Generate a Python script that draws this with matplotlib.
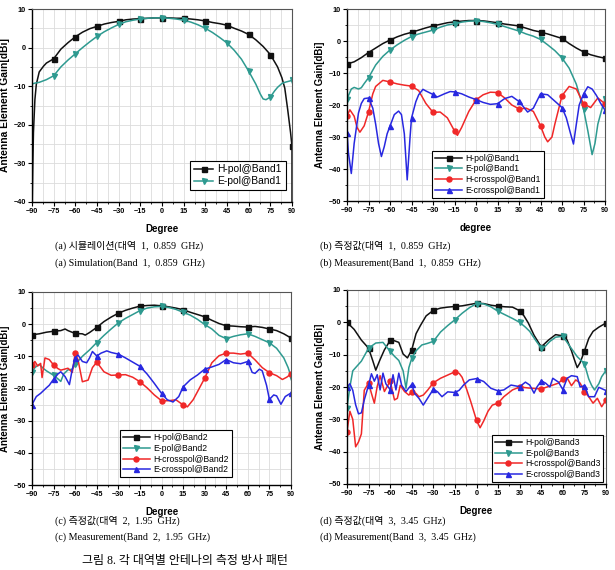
import matplotlib
matplotlib.use('Agg')
import matplotlib.pyplot as plt
from matplotlib.ticker import MultipleLocator

# ---------------- data ----------------
# (a) simulation, band 1
a_h_ang = [-90, -89.5, -89, -88, -87, -85, -82, -80, -75, -70, -65, -60, -55, -50, -45, -40, -35, -30, -25, -20, -15, -10, -5, 0,
           5, 10, 15, 20, 25, 30, 35, 40, 45, 50, 55, 60, 65, 70, 75, 80, 83, 85, 87, 88, 89, 90, 90]
a_h_val = [-45, -32, -22, -13.5, -9.5, -6.3, -4.8, -4.0, -2.9, -0.4, 1.3, 2.8, 4.0, 4.9, 5.5, 6.1, 6.5, 6.8, 7.2, 7.4, 7.5, 7.6, 7.7, 7.7,
           7.7, 7.6, 7.6, 7.4, 7.2, 6.9, 6.5, 6.2, 5.8, 5.0, 4.3, 3.4, 2.0, 0.3, -1.8, -5.0, -7.8, -10.5, -16, -19, -22, -25.6, -45]
a_e_ang = [-90, -89.8, -88, -85, -80, -75, -70, -65, -60, -55, -50, -45, -40, -35, -30, -25, -20, -15, -10, -5, 0,
           5, 10, 15, 20, 25, 30, 35, 40, 45, 50, 55, 60, 65, 68, 70, 72, 75, 78, 80, 83, 85, 88, 90]
a_e_val = [-45, -9.4, -9.2, -9.0, -8.3, -7.3, -5.0, -3.2, -1.6, 0.0, 1.5, 2.9, 4.1, 5.1, 6.0, 6.7, 7.1, 7.4, 7.6, 7.7, 7.7,
           7.6, 7.4, 7.1, 6.6, 5.9, 5.0, 3.9, 2.6, 1.2, -0.7, -3.0, -6.1, -9.5, -12, -13.3, -13.5, -12.8, -11.2, -10.3, -9.3, -9.0, -8.7, -8.5]

# (b) measurement, band 1
b_h_ang = list(range(-90, 91, 5))
b_h_val = [-7.2, -6.5, -5.2, -3.6, -2.2, -0.8, 0.3, 1.3, 2.1, 2.7, 3.4, 4.1, 4.7, 5.2, 5.7, 6.0, 6.2, 6.4, 6.4,
           6.3, 6.0, 5.7, 5.3, 5.0, 4.7, 4.0, 3.3, 2.8, 2.2, 1.5, 0.8, -0.8, -2.2, -3.4, -4.3, -4.9, -5.4]
b_e_ang = [-90, -87, -85, -82, -80, -78, -75, -70, -65, -60, -55, -50, -45, -40, -35, -30, -25, -20, -15, -10, -5, 0,
           5, 10, 15, 20, 25, 30, 35, 40, 45, 50, 55, 60, 65, 70, 75, 78, 80, 81, 83, 85, 88, 90]
b_e_val = [-18.1, -15.0, -14.5, -15.0, -14.6, -13.3, -11.5, -7.5, -4.8, -2.8, -1.2, 0.2, 1.4, 2.2, 2.8, 3.4, 4.3, 5.0, 5.4, 5.9, 6.2, 6.3,
           6.1, 5.7, 5.2, 4.5, 3.8, 3.1, 2.2, 1.5, 0.5, -1.2, -3.0, -5.3, -8.5, -13.5, -21.2, -28, -33, -35.5, -32, -26, -21, -18.1]
b_hx_ang = [-90, -88, -85, -83, -81, -78, -75, -72, -70, -65, -60, -55, -50, -45, -40, -35, -30, -25, -20, -15, -13, -10, -5, 0,
            5, 10, 15, 20, 25, 30, 35, 40, 45, 48, 50, 53, 55, 60, 65, 70, 75, 80, 85, 90]
b_hx_val = [-23.4, -21.5, -23.5, -27, -28.5, -26.5, -22.2, -16.5, -14.2, -12.3, -12.8, -13.4, -13.8, -14.1, -15.5, -19.5, -22.3, -22.2, -24.0, -28.1, -29.5, -27, -22, -18.4,
            -16.8, -16.0, -16.1, -17.8, -20.0, -21.2, -21.0, -22.0, -26.5, -30, -31.5, -30, -26, -17.1, -14.2, -15.0, -19.6, -20.8, -17.8, -19.6]
b_ex_ang = [-90, -89, -87, -85, -82, -80, -78, -75, -72, -70, -68, -66, -64, -62, -60, -57, -54, -52, -50, -48, -46, -45, -42, -40, -37, -35,
            -30, -27, -22, -18, -15, -10, -5, 0, 5, 10, 15, 20, 25, 30, 33, 36, 40, 45, 50, 55, 60, 63, 66, 68, 70, 72, 75, 78, 81, 84, 87, 90]
b_ex_val = [-28.6, -35, -41.4, -32, -22.5, -19.5, -18.0, -17.8, -21, -26, -32, -36.1, -33, -29, -26.6, -23, -21.9, -23, -29, -43.4, -30, -24.1, -19, -16.8, -15.1, -15.6,
            -16.7, -17.5, -16.5, -15.8, -15.9, -16.5, -17.5, -18.3, -19.2, -19.8, -19.6, -18.0, -17.3, -18.9, -20.5, -22.2, -21.0, -16.5, -16.8, -18.8, -20.8, -24, -29, -32.2, -26, -20, -16.6, -14.3, -15, -17, -19.5, -21.6]

# (c) measurement, band 2
c_h_ang = [-90, -85, -80, -75, -70, -67, -65, -60, -55, -53, -50, -45, -40, -35, -30, -25, -20, -15, -10, -5, 0,
           5, 10, 15, 20, 25, 30, 35, 40, 45, 50, 55, 60, 65, 70, 75, 80, 85, 90]
c_h_val = [-3.3, -3.0, -2.5, -2.2, -2.0, -1.5, -2.0, -2.9, -3.0, -3.4, -2.6, -1.0, 0.8, 2.2, 3.4, 4.3, 5.0, 5.6, 5.8, 5.9, 5.7,
           5.4, 5.0, 4.5, 3.7, 3.0, 2.3, 1.2, 0.2, -0.5, -0.6, -0.8, -0.9, -0.7, -1.0, -1.5, -2.0, -3.0, -4.3]
c_e_ang = [-90, -88, -85, -82, -80, -75, -72, -70, -68, -65, -62, -60, -55, -50, -45, -40, -35, -30, -25, -20, -15, -10, -5, 0,
           5, 10, 15, 20, 25, 30, 35, 40, 45, 50, 55, 60, 65, 70, 75, 80, 85, 88, 90]
c_e_val = [-15.0, -13.5, -12.5, -13.8, -14.5, -15.9, -17.0, -17.8, -15.5, -14.2, -14.0, -12.5, -10.0, -8.0, -5.7, -3.5, -1.5, 0.4, 1.8, 3.0, 4.2, 5.0, 5.4, 5.5,
           5.2, 4.6, 3.7, 2.8, 1.5, -0.1, -1.5, -3.5, -4.5, -3.8, -3.3, -3.0, -3.8, -4.8, -5.8, -7.5, -10.5, -13.5, -16.3]
c_hx_ang = [-90, -88, -86, -84, -83, -81, -78, -75, -72, -70, -65, -62, -60, -58, -55, -51, -48, -45, -40, -35, -30, -25, -20, -15, -10, -5, 0,
            5, 10, 15, 18, 22, 25, 30, 35, 40, 45, 50, 55, 60, 65, 70, 75, 80, 84, 87, 90]
c_hx_val = [-12.7, -11.6, -13.0, -12.2, -16.6, -10.5, -11.0, -12.7, -13.8, -14.3, -13.7, -15.0, -9.0, -11.1, -17.9, -17.4, -13.5, -11.8, -14.8, -15.9, -15.8, -15.7, -16.5, -17.9, -19.8, -22.0, -23.8,
            -23.8, -23.5, -25.1, -25.7, -23.5, -21.0, -16.8, -12.0, -9.8, -9.0, -9.0, -9.3, -9.0, -11.1, -13.5, -15.1, -16.0, -17.2, -16.5, -15.5]
c_ex_ang = [-90, -87, -84, -80, -78, -75, -72, -70, -67, -64, -62, -60, -58, -55, -52, -50, -48, -45, -42, -38, -35, -30, -25, -20, -15, -10, -5, 0,
            4, 8, 12, 15, 20, 25, 30, 35, 40, 45, 50, 55, 60, 63, 65, 68, 70, 73, 75, 78, 80, 83, 86, 90]
c_ex_val = [-25.0, -22.5, -21.5, -19.8, -19.0, -17.1, -15.5, -14.8, -16.3, -18.8, -14.0, -10.5, -9.6, -11.6, -12.0, -10.5, -8.5, -9.9, -9.0, -8.3, -8.8, -9.3, -10.5, -11.8, -13.1, -15.5, -18.4, -21.5,
            -23.5, -24.2, -22.5, -19.5, -17.3, -15.8, -14.0, -13.3, -12.5, -11.0, -12.0, -12.3, -11.6, -15.0, -15.3, -14.0, -14.5, -19.0, -23.4, -22.0, -22.3, -24.9, -22.5, -21.4]

# (d) measurement, band 3
d_h_ang = [-90, -85, -80, -75, -72, -70, -67, -64, -60, -57, -54, -51, -48, -45, -42, -39, -35, -30, -25, -20, -15, -10, -5, 0,
           5, 10, 15, 20, 25, 30, 33, 36, 40, 45, 50, 55, 60, 63, 66, 68, 70, 72, 75, 78, 81, 85, 90]
d_h_val = [0.0, -2.2, -5.5, -8.0, -12.0, -14.8, -11.5, -8.5, -5.6, -5.7, -6.2, -9.8, -11.0, -8.5, -3.5, -1.0, 2.0, 3.7, 4.4, 4.7, 4.9, 5.1, 5.5, 5.9,
           5.8, 5.3, 5.0, 4.8, 4.7, 3.6, 2.0, -0.2, -4.0, -7.6, -5.5, -3.8, -4.2, -5.5, -8.8, -11.5, -14.0, -12.5, -8.9, -5.0, -2.8, -1.5, -0.2]
d_e_ang = [-90, -88, -86, -83, -80, -75, -70, -65, -60, -57, -54, -51, -49, -47, -45, -42, -38, -34, -30, -25, -20, -15, -10, -5, 0,
           5, 10, 15, 20, 25, 30, 34, 37, 41, 45, 48, 51, 55, 60, 65, 70, 75, 78, 80, 82, 85, 87, 90]
d_e_val = [-26.5, -20, -15, -13.5, -12, -8.0, -6.4, -6.2, -9.0, -10.5, -11.8, -15, -20.4, -14, -11.1, -8.8, -7.0, -6.5, -5.9, -3.0, -1.0, 0.8, 2.8, 4.5, 5.8,
           5.7, 4.8, 3.4, 2.3, 1.2, 0.0, -1.5, -2.8, -5.5, -8.0, -7.3, -5.9, -4.6, -4.3, -7.5, -10.6, -12.8, -17.5, -19.5, -20.9, -19, -16.8, -14.9]
d_hx_ang = [-90, -88, -86, -84, -82, -80, -78, -75, -73, -71, -69, -67, -64, -60, -57, -55, -53, -50, -47, -45, -42, -40, -37, -34, -30, -25, -20, -15, -12, -10, -7, -4, 0,
            2.5, 5, 8, 11, 15, 19, 25, 30, 36, 42, 45, 51, 57, 60, 63, 66, 69, 72, 75, 78, 81, 84, 87, 90]
d_hx_val = [-33.8, -27.5, -30, -38.5, -37, -34.5, -21, -18.8, -22, -25, -19.8, -16.5, -21.4, -18.2, -24, -23.5, -19.5, -21.4, -22.5, -21.5, -22, -23, -22.5, -21, -18.7, -17.3, -16.3, -15.3, -15.8, -17, -20.5, -24.5, -30.3,
            -32.6, -30.5, -27.5, -25.6, -25.0, -23, -20.9, -20.0, -20.3, -20.5, -20.6, -19.7, -18.8, -17.5, -17.2, -19.6, -17.8, -18.8, -21.4, -23, -25.0, -23.5, -26.1, -24.0]
d_ex_ang = [-90, -88, -86, -84, -82, -80, -78, -75, -73, -71, -69, -67, -65, -63, -60, -58, -56, -54, -52, -49, -45, -43, -40, -37, -34, -30, -27, -24, -20, -15, -12, -9, -5, 0,
            5, 10, 15, 19, 24, 30, 34, 37, 40, 42, 45, 48, 51, 53, 57, 60, 63, 66, 70, 72, 75, 78, 82, 85, 90]
d_ex_val = [-20.0, -19.0, -21.0, -25.5, -28.3, -28.0, -24.0, -19.4, -15.9, -18.2, -16.2, -20.9, -15.7, -19.0, -20.8, -16.2, -20.9, -15.7, -19.5, -21.4, -19.2, -22.0, -23.5, -25.6, -23.5, -20.7, -21.5, -23.0, -21.5, -21.7, -21.0, -19.4, -17.8, -17.4,
            -18.3, -20.4, -21.2, -20.9, -19.4, -19.9, -18.5, -19.4, -21.9, -20.0, -18.1, -18.8, -20.0, -17.3, -18.5, -20.8, -17.3, -16.5, -16.8, -20.0, -19.6, -23.0, -23.0, -20.1, -21.1]

x_ticks = [-90, -75, -60, -45, -30, -15, 0, 15, 30, 45, 60, 75, 90]

captions_top = [
    ("(a) 시뮬레이션(대역  1,  0.859  GHz)", "(a) Simulation(Band  1,  0.859  GHz)"),
    ("(b) 측정값(대역  1,  0.859  GHz)", "(b) Measurement(Band  1,  0.859  GHz)"),
]
captions_bot = [
    ("(c) 측정값(대역  2,  1.95  GHz)", "(c) Measurement(Band  2,  1.95  GHz)"),
    ("(d) 측정값(대역  3,  3.45  GHz)", "(d) Measurement(Band  3,  3.45  GHz)"),
]
fig_caption = "그림 8. 각 대역별 안테나의 측정 방사 패턴"

# ---------------- style ----------------
SANS = ['Liberation Sans', 'DejaVu Sans']
SERIF = ['Liberation Serif', 'Noto Sans CJK KR', 'DejaVu Sans']
plt.rcParams['font.family'] = SANS

STY = {
    'H': dict(color='#111111', marker='s'),
    'E': dict(color='#2E9A90', marker='v'),
    'HX': dict(color='#F02828', marker='o'),
    'EX': dict(color='#2828E0', marker='^'),
}

W, H = 615, 570
fig = plt.figure(figsize=(W / 100, H / 100), dpi=100)


def add_ax(l, t, r, b):
    return fig.add_axes([l / W, 1 - b / H, (r - l) / W, (b - t) / H])


def mark_idx(ang):
    return [i for i, a in enumerate(ang) if a % 15 == 0 and (i == 0 or ang[i - 1] != a)]


def draw(ax, ang, val, key, label):
    ax.plot(ang, val, lw=1.1, ms=3.6, markevery=mark_idx(ang), label=label,
            clip_on=True, **STY[key])


def style_ax(ax, ylo, xlabel, ylab_fs):
    ax.set_xlim(-90, 90)
    ax.set_ylim(ylo, 10)
    ax.set_xticks(x_ticks)
    ax.xaxis.set_minor_locator(MultipleLocator(7.5))
    ax.yaxis.set_major_locator(MultipleLocator(10))
    ax.yaxis.set_minor_locator(MultipleLocator(5))
    ax.grid(True, which='both', color='#dcdcdc', lw=0.6)
    ax.set_axisbelow(True)
    ax.tick_params(which='major', direction='out', length=3, width=0.8, labelsize=5.2, pad=1.5)
    ax.tick_params(which='minor', direction='out', length=1.6, width=0.6)
    for lab in ax.get_xticklabels() + ax.get_yticklabels():
        lab.set_fontweight('bold')
    for s in ['left', 'bottom']:
        ax.spines[s].set_linewidth(1.0)
    for s in ['top', 'right']:
        ax.spines[s].set_linewidth(0.8)
        ax.spines[s].set_color('#555555')
    ax.set_xlabel(xlabel, fontsize=7, fontweight='bold')
    ax.xaxis.set_label_coords(0.5, -0.115)
    ax.set_ylabel('Antenna Element Gain[dBi]', fontsize=ylab_fs, fontweight='bold')
    ax.yaxis.set_label_coords(-0.086, 0.5)


def legend(ax, fs, hl, loc, anchor):
    lg = ax.legend(loc=loc, bbox_to_anchor=anchor, fontsize=fs, handlelength=hl,
                   frameon=True, fancybox=False, framealpha=1, edgecolor='black',
                   borderpad=0.35, labelspacing=0.2, handletextpad=0.4, borderaxespad=0)
    lg.get_frame().set_linewidth(0.8)


# (a)
ax = add_ax(32, 9, 292, 202)
draw(ax, a_h_ang, a_h_val, 'H', 'H-pol@Band1')
draw(ax, a_e_ang, a_e_val, 'E', 'E-pol@Band1')
style_ax(ax, -40, 'Degree', 7.4)
legend(ax, 7.4, 1.9, 'lower right', (0.975, 0.062))

# (b)
ax = add_ax(347, 9, 605, 201)
draw(ax, b_h_ang, b_h_val, 'H', 'H-pol@Band1')
draw(ax, b_e_ang, b_e_val, 'E', 'E-pol@Band1')
draw(ax, b_hx_ang, b_hx_val, 'HX', 'H-crosspol@Band1')
draw(ax, b_ex_ang, b_ex_val, 'EX', 'E-crosspol@Band1')
style_ax(ax, -50, 'degree', 7)
legend(ax, 6.2, 3.1, 'lower left', (0.33, 0.016))

# (c)
ax = add_ax(32, 292, 291, 485)
draw(ax, c_h_ang, c_h_val, 'H', 'H-pol@Band2')
draw(ax, c_e_ang, c_e_val, 'E', 'E-pol@Band2')
draw(ax, c_hx_ang, c_hx_val, 'HX', 'H-crosspol@Band2')
draw(ax, c_ex_ang, c_ex_val, 'EX', 'E-crosspol@Band2')
style_ax(ax, -50, 'Degree', 7)
legend(ax, 6.2, 3.1, 'lower left', (0.34, 0.04))

# (d)
ax = add_ax(347, 290, 606, 484)
draw(ax, d_h_ang, d_h_val, 'H', 'H-pol@Band3')
draw(ax, d_e_ang, d_e_val, 'E', 'E-pol@Band3')
draw(ax, d_hx_ang, d_hx_val, 'HX', 'H-crosspol@Band3')
draw(ax, d_ex_ang, d_ex_val, 'EX', 'E-crosspol@Band3')
style_ax(ax, -50, 'Degree', 7)
legend(ax, 6.2, 3.1, 'lower right', (0.99, 0.01))

# captions
CAP_FS = 7.2
for (k, e), x in zip(captions_top, [55, 320]):
    fig.text(x / W, 1 - 246 / H, k, family=SERIF, fontsize=CAP_FS, va='center', ha='left')
    fig.text(x / W, 1 - 263 / H, e, family=SERIF, fontsize=CAP_FS, va='center', ha='left')
for (k, e), x in zip(captions_bot, [55, 320]):
    fig.text(x / W, 1 - 521 / H, k, family=SERIF, fontsize=CAP_FS, va='center', ha='left')
    fig.text(x / W, 1 - 537 / H, e, family=SERIF, fontsize=CAP_FS, va='center', ha='left')
fig.text(82 / W, 1 - 555 / H, fig_caption, family=SERIF, fontsize=8.6, va='top', ha='left')

fig.savefig('out.png', dpi=100)
